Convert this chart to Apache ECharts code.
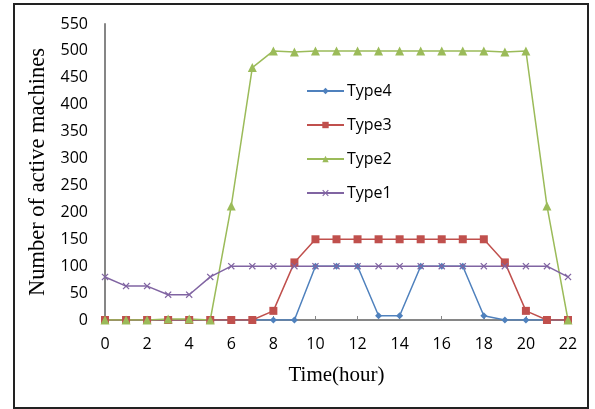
<!DOCTYPE html>
<html>
<head>
<meta charset="utf-8">
<script src="https://cdn.jsdelivr.net/npm/echarts@6/dist/echarts.min.js"></script>
<style>html,body{margin:0;padding:0;background:#fff;}#c{width:595px;height:409px;}</style>
</head>
<body>
<div id="c"></div>
<script>
const hours = [0,1,2,3,4,5,6,7,8,9,10,11,12,13,14,15,16,17,18,19,20,21,22];
const type4 = [0,0,0,0,0,0,0,0,0,0,100,100,100,8,8,100,100,100,8,0,0,0,0];
const type3 = [0,0,0,0,0,0,0,0,17,107,150,150,150,150,150,150,150,150,150,107,17,0,0];
const type2 = [0,0,0,2,2,0,212,469,500,498,500,500,500,500,500,500,500,500,500,498,500,212,0];
const type1 = [80,63,63,47,47,80,100,100,100,100,100,100,100,100,100,100,100,100,100,100,100,100,80];
const yTicks = {min:0, max:550, interval:50};
const xTicks = {min:0, max:22, interval:2};

const pair = arr => arr.map((v,i)=>[hours[i], v]);
const xPath = 'path://M0,1.2L1.2,0L5,3.8L8.8,0L10,1.2L6.2,5L10,8.8L8.8,10L5,6.2L1.2,10L0,8.8L3.8,5Z';

const chart = echarts.init(document.getElementById('c'), null, {renderer:'canvas'});
const sansFont = 'Open Sans';
function mk(name, data, color, symbol, size){
  return {name, type:'line', data:pair(data), symbol, symbolSize:size,
    lineStyle:{color, width:1.5}, itemStyle:{color}, showSymbol:true, animation:false};
}
chart.setOption({
  animation:false,
  graphic:[{type:'rect', shape:{x:14, y:4, width:574, height:404}, style:{fill:'none', stroke:'#222', lineWidth:2}, z:-1}],
  grid:{left:105, right:27, top:24, bottom:89},
  legend:{orient:'vertical', left:306, top:80, padding:0, itemWidth:37, itemHeight:8, itemGap:12,
    textStyle:{fontFamily:sansFont, fontSize:16, color:'#000', padding:[0,0,0,-2], lineHeight:22},
    data:['Type4','Type3','Type2','Type1']},
  xAxis:{type:'value', min:xTicks.min, max:xTicks.max, interval:xTicks.interval,
    name:'Time(hour)', nameLocation:'middle', nameGap:45,
    nameTextStyle:{fontFamily:'Liberation Serif', fontSize:21, color:'#000'},
    axisLine:{lineStyle:{color:'#868686', width:2}},
    axisTick:{inside:true, length:4, lineStyle:{color:'#868686'}},
    axisLabel:{fontFamily:sansFont, fontSize:16, color:'#000', margin:16},
    splitLine:{show:false}},
  yAxis:{type:'value', min:yTicks.min, max:yTicks.max, interval:yTicks.interval,
    name:'Number of active machines', nameLocation:'middle', nameGap:55,
    nameTextStyle:{fontFamily:'Liberation Serif', fontSize:22.5, color:'#000'},
    axisLine:{show:true, lineStyle:{color:'#868686', width:2}},
    axisTick:{show:false},
    axisLabel:{fontFamily:sansFont, fontSize:16, color:'#000', margin:17},
    splitLine:{show:false}},
  series:[
    mk('Type4', type4, '#4F81BD', 'diamond', 7),
    mk('Type3', type3, '#C0504D', 'rect', 8),
    mk('Type2', type2, '#9BBB59', 'triangle', 9),
    mk('Type1', type1, '#8064A2', xPath, 7)
  ]
});
</script>
</body>
</html>
